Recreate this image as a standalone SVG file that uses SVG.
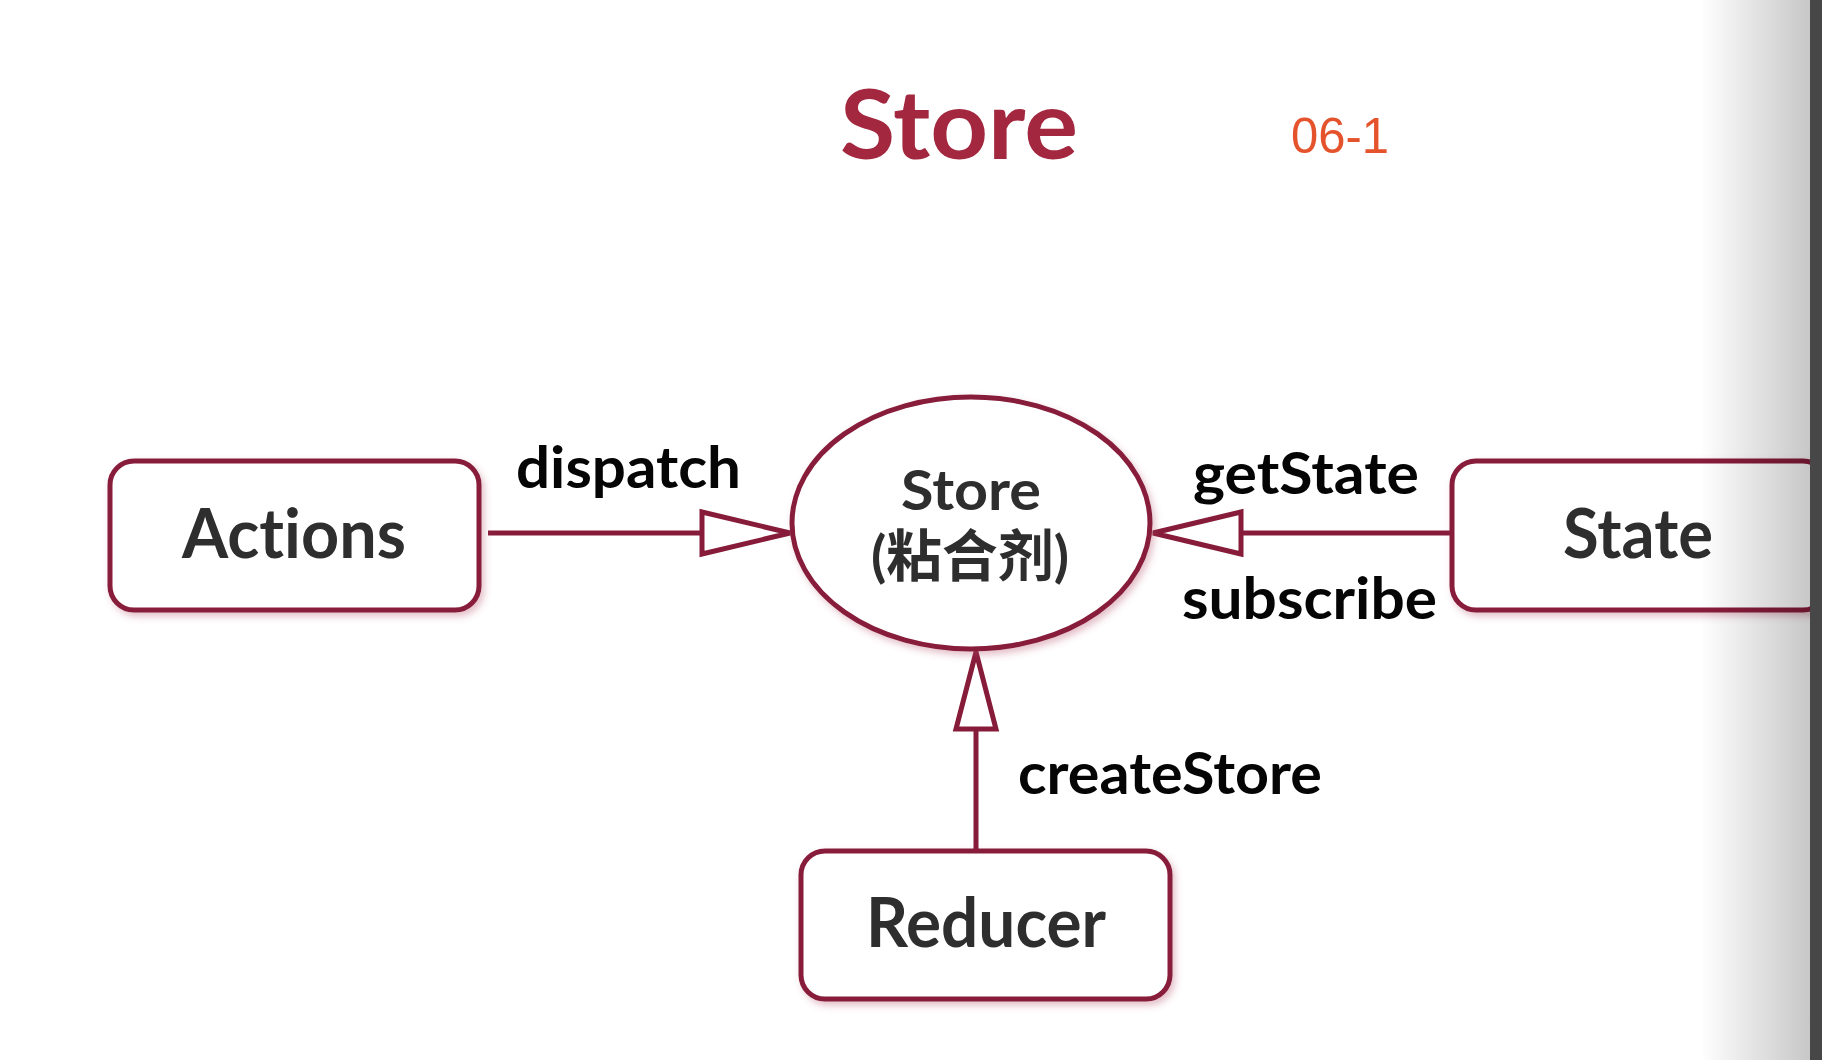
<svg xmlns="http://www.w3.org/2000/svg" width="1822" height="1060" viewBox="0 0 1822 1060">
<style>
text{font-variant-ligatures:none;font-feature-settings:"liga" 0,"clig" 0}
.box{fill:#fff;stroke:#871c3a;stroke-width:5;filter:url(#sh)}
.line{stroke:#871c3a;stroke-width:5;fill:none}
.tri{fill:#fff;stroke:#871c3a;stroke-width:5;stroke-linejoin:miter}
.node{font-family:Lato,"Noto Sans","Noto Sans CJK SC",sans-serif;font-weight:bold;fill:#2e2e2e;text-anchor:middle}
.lbl{font-family:Lato,"Noto Sans",sans-serif;font-weight:bold;fill:#050505;font-size:58px}
</style>
<defs>
<filter id="sh" x="-10%" y="-10%" width="120%" height="130%">
<feDropShadow dx="3" dy="4" stdDeviation="3.5" flood-color="#b04a65" flood-opacity="0.35"/>
</filter>
<linearGradient id="edge" x1="0" y1="0" x2="1" y2="0">
<stop offset="0" stop-color="#000" stop-opacity="0"/>
<stop offset="1" stop-color="#000" stop-opacity="0.22"/>
</linearGradient>
</defs>
<rect width="1822" height="1060" fill="#fff"/>
<text x="959" y="159" text-anchor="middle" font-family="Lato,'Noto Sans',sans-serif" font-weight="bold" font-size="95" fill="#a3283f" textLength="238" lengthAdjust="spacingAndGlyphs">Store</text>
<text x="1291" y="153" font-family="'Liberation Sans',Arial,sans-serif" font-size="50" fill="#e5532d" textLength="98" lengthAdjust="spacingAndGlyphs">06-1</text>
<g id="connectors">
<line class="line" x1="488" y1="533" x2="702" y2="533"/>
<polygon class="tri" points="702,512 790,533 702,554"/>
<line class="line" x1="1452" y1="533" x2="1241" y2="533"/>
<polygon class="tri" points="1241,512 1153,533 1241,554"/>
<line class="line" x1="976" y1="851" x2="976" y2="729"/>
<polygon class="tri" points="956,729 976,652 996,729"/>
<text class="lbl" x="516" y="488" textLength="225" lengthAdjust="spacingAndGlyphs">dispatch</text>
<text class="lbl" x="1193" y="494" textLength="226" lengthAdjust="spacingAndGlyphs">getState</text>
<text class="lbl" x="1182" y="619" textLength="255" lengthAdjust="spacingAndGlyphs">subscribe</text>
<text class="lbl" x="1018" y="794" textLength="304" lengthAdjust="spacingAndGlyphs">createStore</text>
</g>
<g id="actions">
<rect class="box" x="110" y="461" width="369" height="149" rx="24"/>
<text class="node" x="294" y="558" font-size="68" textLength="224" lengthAdjust="spacingAndGlyphs">Actions</text>
</g>
<g id="store">
<ellipse class="box" cx="971" cy="523" rx="179" ry="126"/>
<text class="node" x="971" y="510" font-size="56" textLength="140" lengthAdjust="spacingAndGlyphs">Store</text>
<text class="node" x="970" y="576" font-size="56" textLength="198" lengthAdjust="spacingAndGlyphs">(粘合剂)</text>
</g>
<g id="state">
<rect class="box" x="1452" y="461" width="375" height="149" rx="24"/>
<text class="node" x="1638" y="558" font-size="68" textLength="150" lengthAdjust="spacingAndGlyphs">State</text>
</g>
<g id="reducer">
<rect class="box" x="801" y="851" width="369" height="148" rx="24"/>
<text class="node" x="986" y="947" font-size="68" textLength="240" lengthAdjust="spacingAndGlyphs">Reducer</text>
</g>
<rect x="1700" y="0" width="110" height="1060" fill="url(#edge)"/>
<rect x="1810" y="0" width="12" height="1060" fill="#474747"/>
</svg>
